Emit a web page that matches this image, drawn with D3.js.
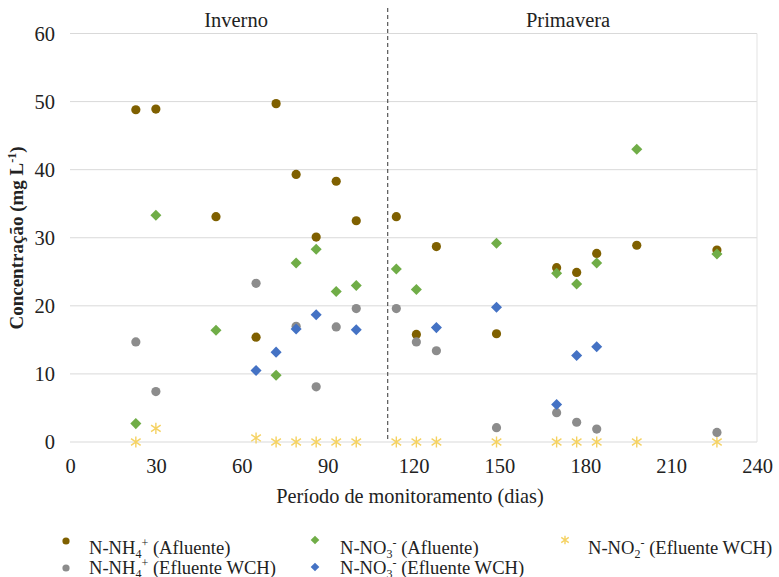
<html>
<head>
<meta charset="utf-8">
<script src="https://d3js.org/d3.v7.min.js"></script>
<style>
  body { margin: 0; background: #fff; }
  svg text { font-family: "Liberation Serif", "Times New Roman", serif; fill: #222; }
</style>
</head>
<body>
<svg width="779" height="577" id="chart" font-family="Liberation Serif"></svg>
<script>
// days of sampling and concentrations (mg/L)
var daysNH4Af = [23, 30, 51, 65, 72, 79, 86, 93, 100, 114, 121, 128, 149, 170, 177, 184, 198, 226];
var nh4Af     = [48.8, 48.9, 33.1, 15.4, 49.7, 39.3, 30.1, 38.3, 32.5, 33.1, 15.8, 28.7, 15.9, 25.6, 24.9, 27.7, 28.9, 28.2];

var daysNO3Af = [23, 30, 51, 72, 79, 86, 93, 100, 114, 121, 149, 170, 177, 184, 198, 226];
var no3Af     = [2.7, 33.3, 16.4, 9.8, 26.3, 28.3, 22.1, 23.0, 25.4, 22.4, 29.2, 24.8, 23.2, 26.3, 43.0, 27.6];

var daysNO2Ef = [23, 30, 65, 72, 79, 86, 93, 100, 114, 121, 128, 149, 170, 177, 184, 198, 226];
var no2Ef     = [0, 2.0, 0.6, 0, 0, 0, 0, 0, 0, 0, 0, 0, 0, 0, 0, 0, 0];

var daysNH4Ef = [23, 30, 65, 79, 86, 93, 100, 114, 121, 128, 149, 170, 177, 184, 226];
var nh4Ef     = [14.7, 7.4, 23.3, 17.0, 8.1, 16.9, 19.6, 19.6, 14.7, 13.4, 2.1, 4.3, 2.9, 1.9, 1.4];

var daysNO3Ef = [65, 72, 79, 86, 100, 128, 149, 170, 177, 184];
var no3Ef     = [10.5, 13.2, 16.6, 18.7, 16.5, 16.8, 19.8, 5.5, 12.7, 14.0];

var xTicks = [0, 30, 60, 90, 120, 150, 180, 210, 240];
var yTicks = [0, 10, 20, 30, 40, 50, 60];
var seasonSplit = 111;
var seasons = [{name: "Inverno", day: 58}, {name: "Primavera", day: 174}];

function zip(days, vals) {
  return days.map(function(d, i) { return {day: d, v: vals[i]}; });
}

// legend order = series order (drawing order)
var series = [
  {label: ["N-NH", "4", "+", " (Afluente)"], shape: "circle", color: "#7F6000", data: zip(daysNH4Af, nh4Af)},
  {label: ["N-NO", "3", "-", " (Afluente)"], shape: "diamond", color: "#70AD47", data: zip(daysNO3Af, no3Af)},
  {label: ["N-NO", "2", "-", " (Efluente WCH)"], shape: "star", color: "#F5D262", data: zip(daysNO2Ef, no2Ef)},
  {label: ["N-NH", "4", "+", " (Efluente WCH)"], shape: "circle", color: "#8C8C8C", data: zip(daysNH4Ef, nh4Ef)},
  {label: ["N-NO", "3", "-", " (Efluente WCH)"], shape: "diamond", color: "#4472C4", data: zip(daysNO3Ef, no3Ef)}
];

var svg = d3.select("#chart");
var plotLeft = 70, plotRight = 757, plotTop = 33.5, plotBottom = 442;
var serif = "Liberation Serif";

var x = d3.scaleLinear().domain([0, 240]).range([plotLeft, plotRight]);
var y = d3.scaleLinear().domain([0, 60]).range([plotBottom, plotTop]);

// gridlines
svg.append("g").selectAll("line").data(yTicks).enter().append("line")
  .attr("x1", plotLeft).attr("x2", plotRight)
  .attr("y1", function(d){ return y(d); }).attr("y2", function(d){ return y(d); })
  .attr("stroke", "#D9D9D9").attr("stroke-width", 1);
svg.append("line")
  .attr("x1", plotRight).attr("x2", plotRight).attr("y1", plotTop).attr("y2", plotBottom)
  .attr("stroke", "#E3E3E3");

// axes
var yAxis = d3.axisLeft(y).tickValues(yTicks).tickSize(0).tickPadding(15);
var gy = svg.append("g").attr("transform", "translate(" + plotLeft + ",0)").call(yAxis);
gy.attr("font-family", serif);
gy.select(".domain").remove();
gy.selectAll("text").style("font-size", "20.5px").style("font-family", serif).attr("fill", "#222");

var xAxis = d3.axisBottom(x).tickValues(xTicks).tickSize(0).tickPadding(16);
var gx = svg.append("g").attr("transform", "translate(0," + plotBottom + ")").call(xAxis);
gx.attr("font-family", serif);
gx.select(".domain").remove();
gx.selectAll("text").style("font-size", "20.5px").style("font-family", serif).attr("fill", "#222");

// season separator
svg.append("line")
  .attr("x1", x(seasonSplit)).attr("x2", x(seasonSplit))
  .attr("y1", 8).attr("y2", plotBottom)
  .attr("stroke", "#333").attr("stroke-width", 1).attr("stroke-dasharray", "4,3");

svg.selectAll(".season").data(seasons).enter().append("text")
  .attr("x", function(d){ return x(d.day); }).attr("y", 27)
  .attr("text-anchor", "middle").style("font-size", "20.5px")
  .text(function(d){ return d.name; });

// markers
function drawMarker(g, shape, color, s) {
  if (shape === "circle") {
    g.append("circle").attr("r", s).attr("fill", color);
  } else if (shape === "diamond") {
    var h = s * 1.2;
    g.append("path").attr("d", "M0," + (-h) + "L" + h + ",0L0," + h + "L" + (-h) + ",0Z").attr("fill", color);
  } else {
    var r = s * 1.2;
    g.append("path")
      .attr("d", "M0," + (-r) + "V" + r +
                 "M" + (-r * 0.87) + "," + (-r * 0.6) + "L" + (r * 0.87) + "," + (r * 0.6) +
                 "M" + (-r * 0.87) + "," + (r * 0.6) + "L" + (r * 0.87) + "," + (-r * 0.6))
      .attr("stroke", color).attr("stroke-width", 1.4).attr("fill", "none");
  }
}

series.forEach(function(s) {
  var g = svg.append("g");
  g.selectAll("g").data(s.data).enter().append("g")
    .attr("transform", function(d){ return "translate(" + x(d.day) + "," + y(d.v) + ")"; })
    .each(function() { drawMarker(d3.select(this), s.shape, s.color, 4.6); });
});

// axis titles
svg.append("text")
  .attr("x", 410).attr("y", 503).attr("text-anchor", "middle")
  .style("font-size", "20.3px").text("Período de monitoramento (dias)");

var yt = svg.append("text")
  .attr("transform", "translate(23,238) rotate(-90)")
  .attr("text-anchor", "middle").style("font-size", "19px").style("font-weight", "bold");
yt.append("tspan").text("Concentração (mg L");
yt.append("tspan").attr("dy", -7).style("font-size", "12px").text("-1");
yt.append("tspan").attr("dy", 7).text(")");

// legend
var legPos = [
  {mx: 66, my: 541, tx: 89, ty: 554},
  {mx: 315, my: 540, tx: 340, ty: 554},
  {mx: 565, my: 540, tx: 588, ty: 554},
  {mx: 66, my: 568, tx: 89, ty: 574},
  {mx: 315, my: 567, tx: 340, ty: 574}
];
series.forEach(function(s, i) {
  var p = legPos[i];
  var m = svg.append("g").attr("transform", "translate(" + p.mx + "," + p.my + ")");
  drawMarker(m, s.shape, s.color, 3.6);
  var t = svg.append("text").attr("x", p.tx).attr("y", p.ty).style("font-size", "18.6px");
  t.append("tspan").text(s.label[0]);
  t.append("tspan").attr("dy", 4).style("font-size", "12px").text(s.label[1]);
  t.append("tspan").attr("dy", -11).style("font-size", "12px").text(s.label[2]);
  t.append("tspan").attr("dy", 7).text(s.label[3]);
});
</script>
</body>
</html>
